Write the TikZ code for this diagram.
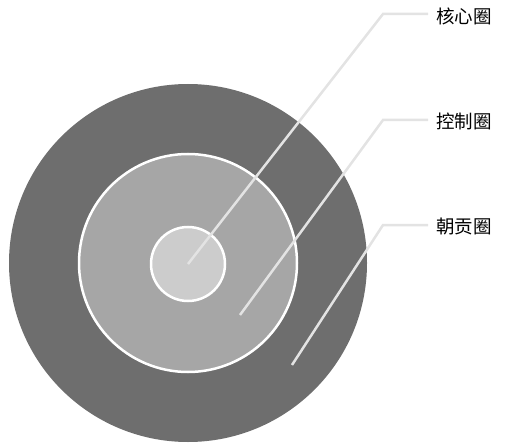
\documentclass[tikz,border=0pt]{standalone}
\usepackage{fontspec}
\newfontfamily\cjk{Noto Sans CJK SC}
\definecolor{outerc}{HTML}{6E6E6E}
\definecolor{midc}{HTML}{A6A6A6}
\definecolor{innerc}{HTML}{CCCCCC}
\definecolor{leadc}{HTML}{E3E3E3}
\begin{document}
\begin{tikzpicture}[x=1pt,y=-1pt,
  ring/.style={draw=white,line width=2.5pt},
  leader/.style={draw=leadc,line width=2.5pt},
  lbl/.style={anchor=west,inner sep=0pt,font=\cjk\fontsize{18.5}{18.5}\selectfont}]
\useasboundingbox (0,0) rectangle (505,446);
\fill[outerc] (188,263) circle (179);
\path[ring,fill=midc] (188,263) circle (109);
\path[ring,fill=innerc] (188,264) circle (37);
\coordinate (c1) at (188,264);
\coordinate (c2) at (240,315);
\coordinate (c3) at (292,365);
\coordinate (b1) at (383,14);
\coordinate (b2) at (383,120);
\coordinate (b3) at (383,225);
\node[lbl] (t1) at (436,16) {核心圈};
\node[lbl] (t2) at (436,121) {控制圈};
\node[lbl] (t3) at (436,226) {朝贡圈};
\draw[leader] (c1) -- (b1) -- ([xshift=-8pt]b1 -| t1.west);
\draw[leader] (c2) -- (b2) -- ([xshift=-8pt]b2 -| t2.west);
\draw[leader] (c3) -- (b3) -- ([xshift=-8pt]b3 -| t3.west);
\end{tikzpicture}
\end{document}
